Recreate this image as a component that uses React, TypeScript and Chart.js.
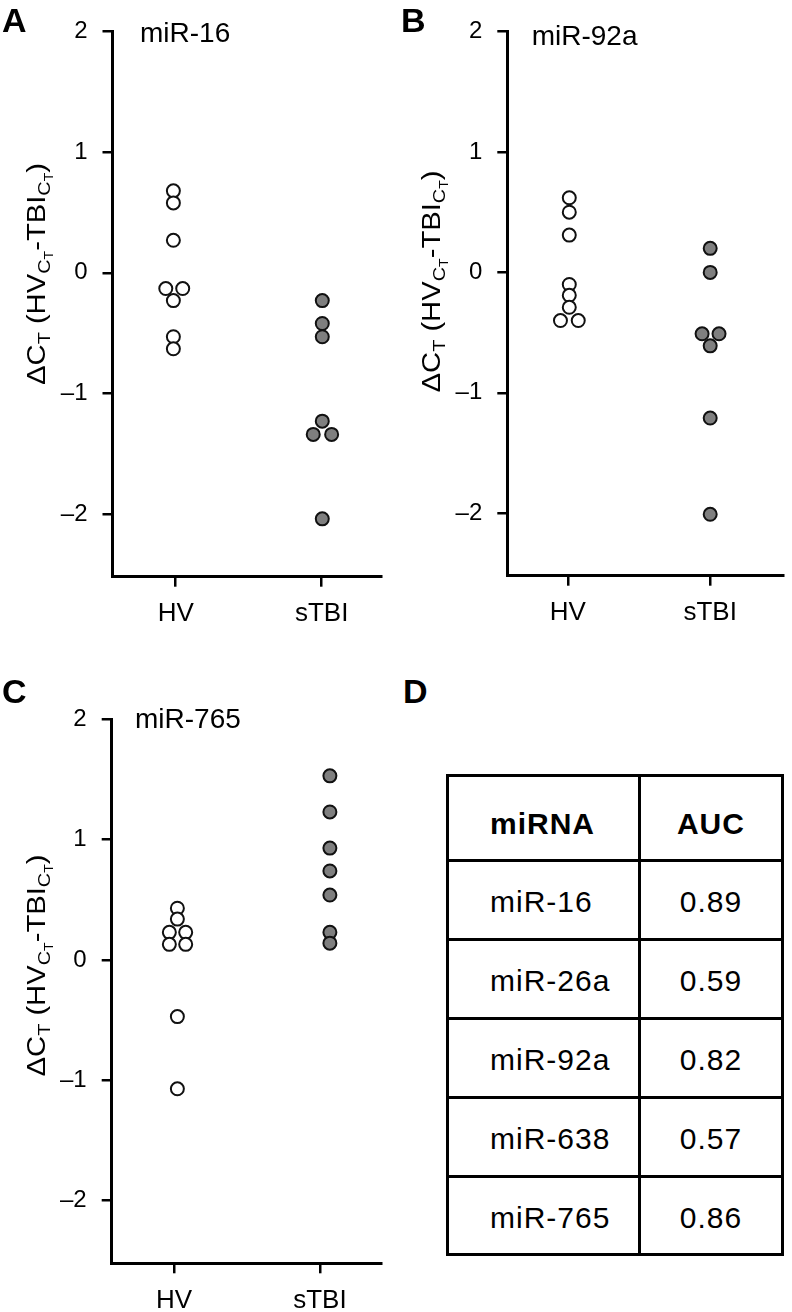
import React, { useEffect, useRef } from 'react';
import { Chart, registerables } from 'chart.js';

Chart.register(...registerables);

const FONT = '"Liberation Sans", Arial, Helvetica, sans-serif';

// ---------- data ----------
const groups = ['HV', 'sTBI'];
const xTickValues = [1, 2];
const yTickValues = [-2, -1, 0, 1, 2];

// Panel A: miR-16
const mir16HV = [0.68, 0.58, 0.27, -0.13, -0.13, -0.23, -0.53, -0.63];
const mir16HVJitter = [-0.016, -0.016, -0.016, -0.068, 0.048, -0.016, -0.016, -0.016];
const mir16TBI = [-0.23, -0.42, -0.53, -1.23, -1.34, -1.34, -2.04];
const mir16TBIJitter = [0.004, 0.004, 0.004, 0.004, -0.058, 0.068, 0.004];

// Panel B: miR-92a
const mir92aHV = [0.62, 0.5, 0.31, -0.1, -0.19, -0.29, -0.4, -0.4];
const mir92aHVJitter = [0.01, 0.01, 0.01, 0.01, 0.01, 0.01, -0.052, 0.073];
const mir92aTBI = [0.2, 0.0, -0.51, -0.51, -0.61, -1.21, -2.01];
const mir92aTBIJitter = [0, 0, -0.057, 0.062, 0, 0, 0];

// Panel C: miR-765
const mir765HV = [0.43, 0.34, 0.23, 0.23, 0.13, 0.13, -0.47, -1.07];
const mir765HVJitter = [0.023, 0.023, -0.032, 0.08, -0.032, 0.08, 0.023, 0.023];
const mir765TBI = [1.53, 1.23, 0.93, 0.74, 0.54, 0.23, 0.14];
const mir765TBIJitter = [0.068, 0.068, 0.068, 0.068, 0.068, 0.068, 0.068];

// Panel D: table
const tableHeaders = ['miRNA', 'AUC'];
const tableMirnas = ['miR-16', 'miR-26a', 'miR-92a', 'miR-638', 'miR-765'];
const tableAUC = ['0.89', '0.59', '0.82', '0.57', '0.86'];

// ---------- y-axis rich title ----------
const yTitleSegments: [string, number][] = [
  ['\u0394C', 0],
  ['T', 1],
  [' (HV', 0],
  ['C', 1],
  ['T', 2],
  ['-TBI', 0],
  ['C', 1],
  ['T', 2],
  [')', 0],
];
const segSizes = [25, 17, 12];
const segShifts = [0, 5, 8];

function drawRichTitle(ctx: CanvasRenderingContext2D, bx: number, cy: number, len: number) {
  let total = 0;
  const widths: number[] = [];
  for (const [t, l] of yTitleSegments) {
    ctx.font = `${segSizes[l]}px ${FONT}`;
    const w = ctx.measureText(t).width;
    widths.push(w);
    total += w;
  }
  const sx = len / total;
  ctx.save();
  ctx.translate(bx, cy);
  ctx.rotate(-Math.PI / 2);
  ctx.scale(sx, 1);
  ctx.textAlign = 'left';
  ctx.textBaseline = 'alphabetic';
  ctx.fillStyle = '#000';
  let x = -total / 2;
  yTitleSegments.forEach(([t, l], i) => {
    ctx.font = `${segSizes[l]}px ${FONT}`;
    ctx.fillText(t, x, segShifts[l]);
    x += widths[i];
  });
  ctx.restore();
}

const annotPlugin = {
  id: 'annot',
  afterDraw(chart: any, _args: any, opts: any) {
    const ctx: CanvasRenderingContext2D = chart.ctx;
    ctx.save();
    ctx.fillStyle = '#000';
    ctx.textAlign = 'left';
    ctx.textBaseline = 'alphabetic';
    ctx.font = `bold 34px ${FONT}`;
    ctx.fillText(opts.letter, opts.letterX, opts.letterY);
    ctx.font = `28px ${FONT}`;
    ctx.fillText(opts.title, opts.titleX, opts.titleY);
    drawRichTitle(ctx, opts.yTitleX, opts.yTitleY, 222);
    ctx.restore();
  },
};

type PanelProps = {
  left: number;
  top: number;
  width: number;
  height: number;
  area: { l: number; t: number; r: number; b: number };
  xMin: number;
  xMax: number;
  hv: number[];
  hvJ: number[];
  tbi: number[];
  tbiJ: number[];
  letter: string;
  letterX: number;
  letterY: number;
  title: string;
  titleX: number;
  titleY: number;
  yTitleX: number;
  yTitleY: number;
};

function Panel(p: PanelProps) {
  const ref = useRef<HTMLCanvasElement | null>(null);
  useEffect(() => {
    if (!ref.current) return;
    const axisColor = '#000';
    const chart = new Chart(ref.current, {
      type: 'scatter',
      data: {
        datasets: [
          {
            label: groups[0],
            data: p.hv.map((v, i) => ({ x: xTickValues[0] + p.hvJ[i], y: v })),
            backgroundColor: '#ffffff',
            borderColor: '#111111',
            pointRadius: 6.5,
            pointBorderWidth: 2,
            pointHoverRadius: 6.5,
          },
          {
            label: groups[1],
            data: p.tbi.map((v, i) => ({ x: xTickValues[1] + p.tbiJ[i], y: v })),
            backgroundColor: '#7f7f7f',
            borderColor: '#111111',
            pointRadius: 6.5,
            pointBorderWidth: 2,
            pointHoverRadius: 6.5,
          },
        ],
      },
      options: {
        animation: false,
        responsive: false,
        maintainAspectRatio: false,
        devicePixelRatio: 1,
        events: [],
        layout: {
          padding: { left: 0, top: p.area.t, right: p.width - p.area.r, bottom: 0 },
        },
        plugins: {
          legend: { display: false },
          tooltip: { enabled: false },
          annot: {
            letter: p.letter,
            letterX: p.letterX,
            letterY: p.letterY,
            title: p.title,
            titleX: p.titleX,
            titleY: p.titleY,
            yTitleX: p.yTitleX,
            yTitleY: p.yTitleY,
          },
        } as any,
        scales: {
          x: {
            type: 'linear',
            min: p.xMin,
            max: p.xMax,
            afterBuildTicks: (s: any) => {
              s.ticks = xTickValues.map((v) => ({ value: v }));
            },
            afterFit: (s: any) => {
              s.height = p.height - p.area.b;
            },
            ticks: {
              autoSkip: false,
              maxRotation: 0,
              minRotation: 0,
              padding: 12,
              color: '#000',
              font: { family: FONT, size: 26 },
              callback: (v: any) => groups[Math.round(Number(v)) - 1] ?? '',
            },
            grid: {
              display: true,
              drawOnChartArea: false,
              drawTicks: true,
              tickLength: 10,
              lineWidth: 2.5,
              tickWidth: 2.5,
              color: axisColor,
              tickColor: axisColor,
            },
            border: { display: true, width: 3, color: axisColor },
          },
          y: {
            type: 'linear',
            min: -2.52,
            max: 2,
            afterBuildTicks: (s: any) => {
              s.ticks = yTickValues.map((v) => ({ value: v }));
            },
            afterFit: (s: any) => {
              s.width = p.area.l;
            },
            ticks: {
              padding: 15,
              color: '#000',
              font: { family: FONT, size: 24 },
              callback: (v: any) => {
                const n = Number(v);
                return n < 0 ? '\u2013' + Math.abs(n) : String(n);
              },
            },
            grid: {
              display: true,
              drawOnChartArea: false,
              drawTicks: true,
              tickLength: 10,
              lineWidth: 2.5,
              tickWidth: 2.5,
              color: axisColor,
              tickColor: axisColor,
            },
            border: { display: true, width: 3, color: axisColor },
          },
        },
      } as any,
      plugins: [annotPlugin as any],
    });
    return () => chart.destroy();
  }, []);
  return (
    <canvas
      ref={ref}
      width={p.width}
      height={p.height}
      style={{ position: 'absolute', left: p.left, top: p.top, width: p.width, height: p.height }}
    />
  );
}

function AucTable() {
  const border = '3px solid #000';
  const rowH = 79;
  const col1W = 188.8;
  const cellBase: React.CSSProperties = {
    boxSizing: 'border-box',
    display: 'flex',
    alignItems: 'center',
    height: '100%',
  };
  const rows = [
    { a: tableHeaders[0], b: tableHeaders[1], header: true },
    ...tableMirnas.map((m, i) => ({ a: m, b: tableAUC[i], header: false })),
  ];
  return (
    <div
      style={{
        position: 'absolute',
        left: 446,
        top: 774,
        width: 338,
        height: 482,
        boxSizing: 'border-box',
        border,
        fontFamily: FONT,
        fontSize: 30,
        letterSpacing: 1,
        color: '#000',
        background: '#fff',
      }}
    >
      {rows.map((r, i) => (
        <div
          key={i}
          style={{
            boxSizing: 'border-box',
            display: 'flex',
            height: i === 0 ? 81.5 : rowH,
            borderTop: i === 0 ? 'none' : border,
            fontWeight: r.header ? 'bold' : 'normal',
          }}
        >
          <div style={{ ...cellBase, width: col1W, paddingLeft: 41, paddingTop: r.header ? 12 : 4 }}>{r.a}</div>
          <div
            style={{
              ...cellBase,
              flex: 1,
              borderLeft: border,
              justifyContent: 'center',
              paddingTop: r.header ? 12 : 4,
            }}
          >
            {r.b}
          </div>
        </div>
      ))}
    </div>
  );
}

export default function App() {
  return (
    <div
      style={{
        position: 'absolute',
        left: 0,
        top: 0,
        width: 792,
        height: 1312,
        background: '#fff',
        overflow: 'hidden',
      }}
    >
      <Panel
        left={0}
        top={0}
        width={396}
        height={650}
        area={{ l: 112.5, t: 31.7, r: 381.7, b: 576.7 }}
        xMin={0.567}
        xMax={2.411}
        hv={mir16HV}
        hvJ={mir16HVJitter}
        tbi={mir16TBI}
        tbiJ={mir16TBIJitter}
        letter="A"
        letterX={2}
        letterY={32}
        title="miR-16"
        titleX={140}
        titleY={41.5}
        yTitleX={45}
        yTitleY={274}
      />
      <Panel
        left={396}
        top={0}
        width={396}
        height={650}
        area={{ l: 111.3, t: 31.7, r: 394, b: 575.7 }}
        xMin={0.5745}
        xMax={2.515}
        hv={mir92aHV}
        hvJ={mir92aHVJitter}
        tbi={mir92aTBI}
        tbiJ={mir92aTBIJitter}
        letter="B"
        letterX={5}
        letterY={32}
        title="miR-92a"
        titleX={135.7}
        titleY={45}
        yTitleX={44}
        yTitleY={281.5}
      />
      <Panel
        left={0}
        top={650}
        width={396}
        height={662}
        area={{ l: 111.7, t: 69.3, r: 381.7, b: 613.3 }}
        xMin={0.573}
        xMax={2.423}
        hv={mir765HV}
        hvJ={mir765HVJitter}
        tbi={mir765TBI}
        tbiJ={mir765TBIJitter}
        letter="C"
        letterX={2}
        letterY={53}
        title="miR-765"
        titleX={135}
        titleY={78.3}
        yTitleX={45}
        yTitleY={315.5}
      />
      <div
        style={{
          position: 'absolute',
          left: 403,
          top: 674,
          fontFamily: FONT,
          fontWeight: 'bold',
          fontSize: 34,
          lineHeight: '34px',
          color: '#000',
        }}
      >
        D
      </div>
      <AucTable />
    </div>
  );
}
